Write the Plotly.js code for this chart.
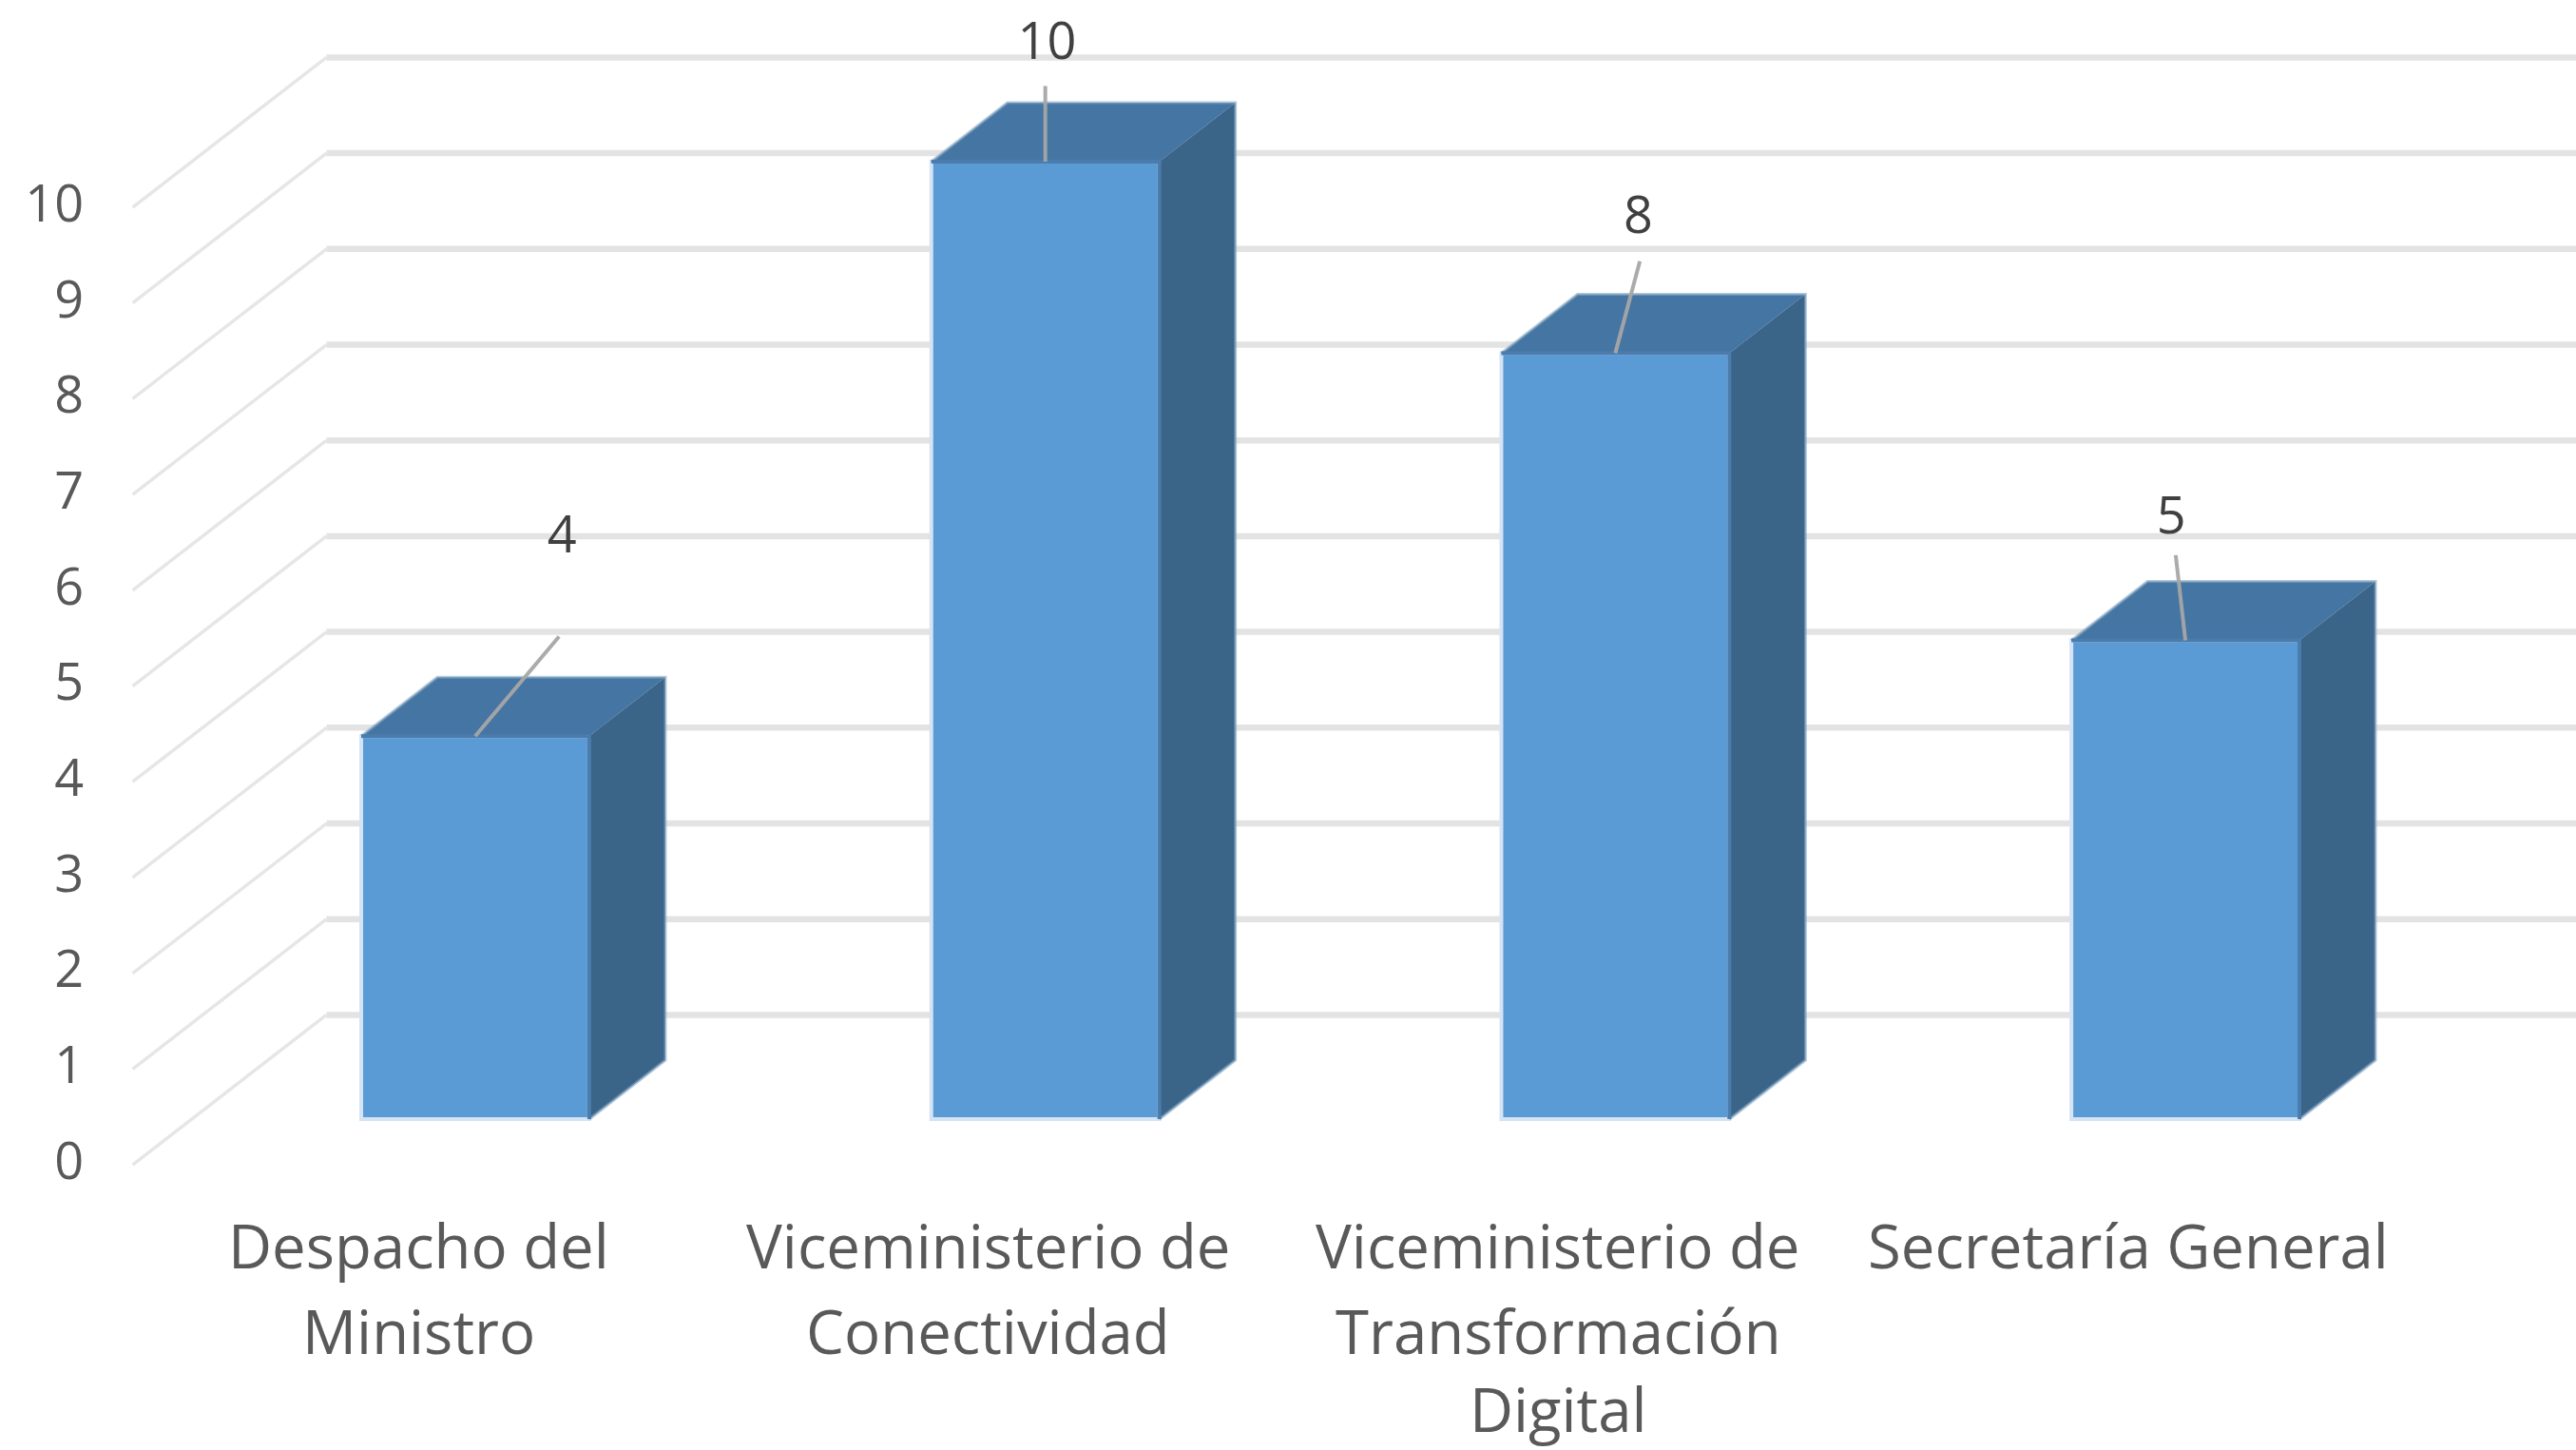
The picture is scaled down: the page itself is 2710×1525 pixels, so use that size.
<!DOCTYPE html>
<html>
<head>
<meta charset="utf-8">
<script src="https://cdn.plot.ly/plotly-3.0.1.min.js"></script>
<style>html,body{margin:0;padding:0;background:#fff}</style>
</head>
<body>
<div id="chart" style="width:2710px;height:1525px"></div>
<script>
const categoryLines = [
  ["Despacho del", "Ministro"],
  ["Viceministerio de", "Conectividad"],
  ["Viceministerio de", "Transformación", "Digital"],
  ["Secretaría General"]
];
const values = [4, 10, 8, 5];
const yTicks = [0, 1, 2, 3, 4, 5, 6, 7, 8, 9, 10];
const leaderDx = [0.147, 0, 0.043, -0.017];
const leaderDy = [1.04, 0.79, 0.96, 0.89];
const labelDx = [0.152, 0.003, 0.04, -0.025];
const labelDy = [2.05, 1.205, 1.385, 1.255];

const W = 2710, H = 1525;
const barWidth = 0.4, depthX = 0.1335, depthY = 0.615;
const xRange = [-0.8337, 3.6852];
const barYRange = [-3.456, 11.688];
const tickYRange = [-3.019, 12.125];
const wallX = -0.261, frontX = -0.601, wallDy = 1.525, frontDy = -0.04;
const catShift = -0.1;
const lineYs = [1309, 1399, 1481];
const textColor = "#595959";
const font = "Open Sans, Noto Sans, sans-serif";

const idx = values.map((_, i) => i);
function poly(fn) { return idx.flatMap(i => [...fn(i), null]); }
const L = i => i - barWidth / 2, R = i => i + barWidth / 2;

const traces = [];

// depth grid (lower subplot, under the bars)
traces.push({
  type: "scatter", mode: "lines", xaxis: "x", yaxis: "y", hoverinfo: "skip", showlegend: false,
  x: yTicks.flatMap(() => [frontX, wallX, null]),
  y: yTicks.flatMap(v => [v + frontDy, v + wallDy, null]),
  line: { color: "#e6e6e6", width: 3.5 }
});
traces.push({
  type: "scatter", mode: "lines", xaxis: "x", yaxis: "y", hoverinfo: "skip", showlegend: false,
  x: yTicks.flatMap(() => [wallX, xRange[1], null]),
  y: yTicks.flatMap(v => [v + wallDy, v + wallDy, null]),
  line: { color: "#e3e3e3", width: 6.5 }
});

// front faces
traces.push({
  type: "bar", xaxis: "x", yaxis: "y2", x: idx, y: values, width: barWidth, showlegend: false,
  marker: { color: "#5B9BD5", line: { color: "#d5e4f4", width: 4 } }
});
// top faces
traces.push({
  type: "scatter", mode: "lines", xaxis: "x", yaxis: "y2", fill: "toself", fillcolor: "#4575A2",
  hoverinfo: "skip", showlegend: false, line: { width: 0, color: "#4575A2" },
  x: poly(i => [L(i), L(i) + depthX, R(i) + depthX, R(i), L(i)]),
  y: poly(i => [values[i], values[i] + depthY, values[i] + depthY, values[i], values[i]])
});
// side faces
traces.push({
  type: "scatter", mode: "lines", xaxis: "x", yaxis: "y2", fill: "toself", fillcolor: "#3A6488",
  hoverinfo: "skip", showlegend: false, line: { width: 0, color: "#3A6488" },
  x: poly(i => [R(i), R(i) + depthX, R(i) + depthX, R(i), R(i)]),
  y: poly(i => [values[i], values[i] + depthY, depthY, 0, values[i]])
});
// soft outer edge of the block
traces.push({
  type: "scatter", mode: "lines", xaxis: "x", yaxis: "y2", hoverinfo: "skip", showlegend: false,
  line: { color: "rgba(130,165,195,0.6)", width: 3 },
  x: poly(i => [L(i), L(i) + depthX, R(i) + depthX, R(i) + depthX, R(i)]),
  y: poly(i => [values[i], values[i] + depthY, values[i] + depthY, depthY, 0])
});
// inner edge between faces
traces.push({
  type: "scatter", mode: "lines", xaxis: "x", yaxis: "y2", hoverinfo: "skip", showlegend: false,
  line: { color: "#4A7DAD", width: 4 },
  x: poly(i => [L(i), R(i), R(i)]),
  y: poly(i => [values[i], values[i], 0])
});
// leader lines
traces.push({
  type: "scatter", mode: "lines", xaxis: "x", yaxis: "y2", hoverinfo: "skip", showlegend: false,
  line: { color: "rgba(166,166,166,0.95)", width: 4 },
  x: poly(i => [i, i + leaderDx[i]]),
  y: poly(i => [values[i], values[i] + leaderDy[i]])
});
// data labels
traces.push({
  type: "scatter", mode: "text", xaxis: "x", yaxis: "y2", hoverinfo: "skip", showlegend: false,
  x: idx.map(i => i + labelDx[i]),
  y: idx.map(i => values[i] + labelDy[i]),
  text: values.map(String), textposition: "middle center",
  textfont: { family: font, size: 54, color: "#404040" }
});

const annotations = categoryLines.flatMap((lines, i) => lines.map((t, k) => ({
  text: t, xref: "x", x: i + catShift, yref: "paper", y: 1 - lineYs[k] / H,
  xanchor: "center", yanchor: "middle", showarrow: false, borderpad: 0, borderwidth: 0,
  font: { family: font, size: 63.5, color: textColor }
})));

const layout = {
  width: W, height: H, margin: { l: 0, r: 0, t: 0, b: 0, pad: 0 },
  paper_bgcolor: "#ffffff", plot_bgcolor: "#ffffff", showlegend: false, hovermode: false,
  xaxis: { type: "linear", range: xRange, domain: [0, 1], showgrid: false, zeroline: false, showline: false, showticklabels: false, ticks: "", fixedrange: true },
  yaxis: {
    type: "linear", range: tickYRange, domain: [0, 1], anchor: "free", position: 0.0325,
    tickmode: "array", tickvals: yTicks, ticktext: yTicks.map(String), ticks: "",
    showgrid: false, zeroline: false, showline: false, fixedrange: true,
    tickfont: { family: font, size: 54, color: textColor }
  },
  yaxis2: { type: "linear", range: barYRange, domain: [0, 1], overlaying: "y", anchor: "x", visible: false, fixedrange: true },
  annotations
};

Plotly.newPlot("chart", traces, layout, { displayModeBar: false, responsive: false });
</script>
</body>
</html>
